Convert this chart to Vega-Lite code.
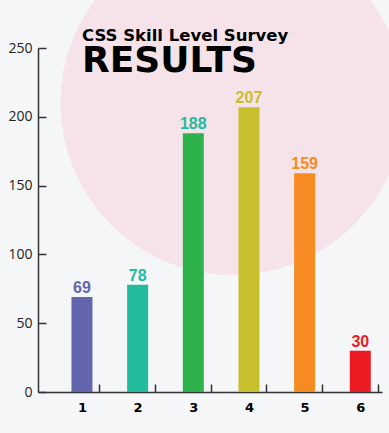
{
  "$schema": "https://vega.github.io/schema/vega-lite/v6.json",
  "autosize": "none",
  "width": 344,
  "height": 344,
  "padding": {"left": 38, "top": 48, "right": 7, "bottom": 41},
  "background": "#f5f6f8",
  "config": {"view": {"stroke": null}},
  "title": {
    "text": "CSS Skill Level Survey",
    "subtitle": "RESULTS",
    "anchor": "start",
    "frame": "group",
    "dx": 44,
    "dy": 148,
    "offset": 0,
    "font": "DejaVu Sans",
    "fontSize": 16.5,
    "fontWeight": "bold",
    "color": "#000000",
    "subtitleFont": "DejaVu Sans",
    "subtitleFontSize": 36,
    "subtitleFontWeight": 900,
    "subtitleColor": "#000000",
    "subtitlePadding": 0
  },
  "data": {
    "values": [
      {"score": 1, "count": 69},
      {"score": 2, "count": 78},
      {"score": 3, "count": 188},
      {"score": 4, "count": 207},
      {"score": 5, "count": 159},
      {"score": 6, "count": 30}
    ]
  },
  "resolve": {"scale": {"color": "independent"}},
  "layer": [
    {
      "data": {"values": [{}]},
      "mark": {"type": "point", "shape": "circle", "filled": true, "size": 118336, "color": "#f5e3e9", "opacity": 1, "clip": false},
      "encoding": {
        "x": {"datum": 3.704, "type": "quantitative"},
        "y": {"datum": 210, "type": "quantitative"}
      }
    },
    {
      "mark": {"type": "bar", "width": 21, "orient": "vertical"},
      "encoding": {
        "x": {
          "field": "score", "type": "quantitative",
          "scale": {"domain": [0.3, 6.3], "nice": false, "zero": false},
          "axis": {
            "title": null,
            "values": [1, 2, 3, 4, 5, 6],
            "format": "d",
            "grid": false,
            "domainColor": "#333333",
            "domainWidth": 1.5,
            "tickColor": "#333333",
            "tickWidth": 1.5,
            "tickSize": -8,
            "tickOffset": 17.2,
            "labelOffset": -17.2,
            "labelPadding": 17,
            "labelFont": "DejaVu Sans",
            "labelFontSize": 13,
            "labelFontWeight": "bold",
            "labelColor": "#000000"
          }
        },
        "y": {
          "field": "count", "type": "quantitative",
          "scale": {"domain": [0, 250], "nice": false},
          "axis": {
            "title": null,
            "values": [0, 50, 100, 150, 200, 250],
            "grid": false,
            "domainColor": "#333333",
            "domainWidth": 1.5,
            "tickColor": "#333333",
            "tickWidth": 1.5,
            "tickSize": -8,
            "labelPadding": 14,
            "labelFont": "Open Sans",
            "labelFontSize": 14,
            "labelColor": "#222222"
          }
        },
        "color": {
          "field": "score", "type": "nominal",
          "scale": {"domain": [1, 2, 3, 4, 5, 6], "range": ["#6366ae", "#22bc9c", "#2eb34c", "#c8bf2c", "#f68b22", "#ed1c24"]},
          "legend": null
        }
      }
    },
    {
      "mark": {"type": "text", "baseline": "alphabetic", "dy": -4, "font": "Liberation Sans", "fontSize": 16, "fontWeight": "bold"},
      "encoding": {
        "x": {"field": "score", "type": "quantitative"},
        "y": {"field": "count", "type": "quantitative"},
        "text": {"field": "count", "type": "quantitative"},
        "color": {
          "field": "score", "type": "nominal",
          "scale": {"domain": [1, 2, 3, 4, 5, 6], "range": ["#6366ae", "#22bc9c", "#22bc9c", "#c8bf2c", "#f68b22", "#ed1c24"]},
          "legend": null
        }
      }
    }
  ]
}
